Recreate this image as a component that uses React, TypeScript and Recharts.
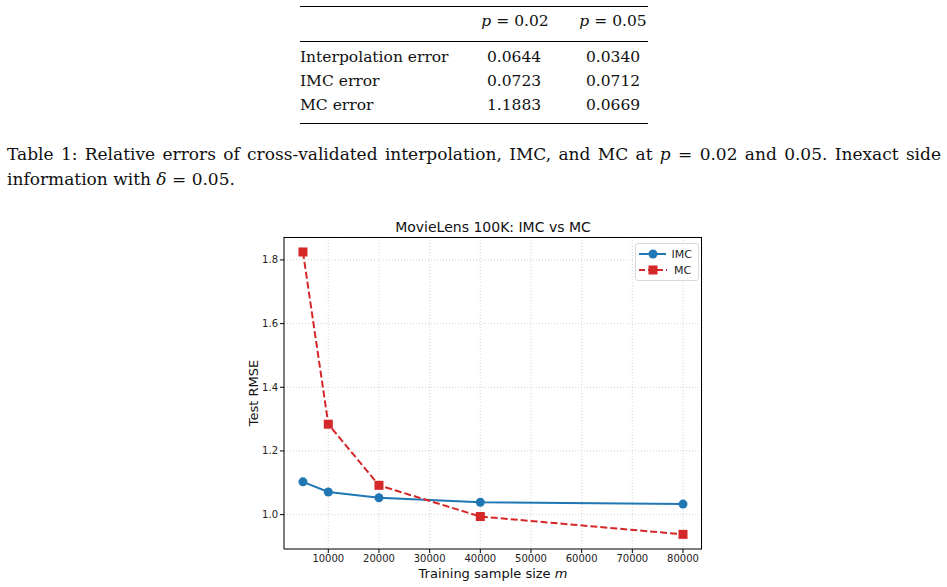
import React from "react";
import { LineChart, Line, XAxis, YAxis, CartesianGrid } from "recharts";

const sampleSizes = [5000, 10000, 20000, 40000, 80000];
const imcRmse = [1.103, 1.071, 1.053, 1.039, 1.033];
const mcRmse = [1.825, 1.284, 1.092, 0.994, 0.938];

const xTicks = [10000, 20000, 30000, 40000, 50000, 60000, 70000, 80000];
const yTicks = [1.0, 1.2, 1.4, 1.6, 1.8];

const rowLabels = ["Interpolation error", "IMC error", "MC error"];
const errP02 = ["0.0644", "0.0723", "1.1883"];
const errP05 = ["0.0340", "0.0712", "0.0669"];

const BLUE = "#1f77b4";
const RED = "#d62728";

const data = sampleSizes.map((m, i) => ({ m, imc: imcRmse[i], mc: mcRmse[i] }));

const serif = "'DejaVu Serif', serif";
const sans = "'DejaVu Sans', sans-serif";

function Square(props: any) {
  const { cx, cy } = props;
  if (cx == null || cy == null) return null;
  return <rect x={cx - 4.5} y={cy - 4.5} width={9} height={9} fill={RED} />;
}

function Circle(props: any) {
  const { cx, cy } = props;
  if (cx == null || cy == null) return null;
  return <circle cx={cx} cy={cy} r={4.5} fill={BLUE} />;
}

function LegendBox() {
  const item = (label: string, color: string, dashed: boolean, square: boolean) => (
    <div style={{ display: "flex", alignItems: "center", height: 16 }}>
      <svg width={30} height={12}>
        <line
          x1={1}
          y1={6}
          x2={29}
          y2={6}
          stroke={color}
          strokeWidth={2}
          strokeDasharray={dashed ? "6 3" : undefined}
        />
        {square ? (
          <rect x={10.5} y={1.5} width={9} height={9} fill={color} />
        ) : (
          <circle cx={15} cy={6} r={4.5} fill={color} />
        )}
      </svg>
      <span style={{ marginLeft: 6, fontSize: 11, color: "#222", fontFamily: sans }}>{label}</span>
    </div>
  );
  return (
    <div
      style={{
        position: "absolute",
        left: 635,
        top: 243,
        width: 54,
        border: "1px solid #d8d8d8",
        borderRadius: 3,
        background: "rgba(255,255,255,0.85)",
        padding: "2px 6px 2px 2px",
      }}
    >
      {item("IMC", BLUE, false, false)}
      {item("MC", RED, true, true)}
    </div>
  );
}

function Math({ v, s }: { v: string; s: string }) {
  return (
    <span>
      <i>{v}</i> = {s}
    </span>
  );
}

export default function App() {
  const cell = 15.5;
  return (
    <div
      style={{
        position: "fixed",
        left: 0,
        top: 0,
        width: 947,
        height: 587,
        background: "#fff",
        fontFamily: serif,
        color: "#111",
      }}
    >
      {/* table */}
      <div style={{ position: "absolute", left: 300, top: 6, width: 348, height: 1.3, background: "#000" }} />
      <div style={{ position: "absolute", left: 300, top: 40.5, width: 348, height: 0.8, background: "#000" }} />
      <div style={{ position: "absolute", left: 300, top: 123, width: 348, height: 1.3, background: "#000" }} />
      <div style={{ position: "absolute", left: 465, top: 12, width: 100, textAlign: "center", fontSize: cell }}>
        <Math v="p" s="0.02" />
      </div>
      <div style={{ position: "absolute", left: 563, top: 12, width: 100, textAlign: "center", fontSize: cell }}>
        <Math v="p" s="0.05" />
      </div>
      {rowLabels.map((lab, i) => (
        <React.Fragment key={lab}>
          <div style={{ position: "absolute", left: 300, top: 48 + i * 24, fontSize: cell, whiteSpace: "nowrap" }}>
            {lab}
          </div>
          <div style={{ position: "absolute", left: 464, top: 48 + i * 24, width: 100, textAlign: "center", fontSize: cell }}>
            {errP02[i]}
          </div>
          <div style={{ position: "absolute", left: 563, top: 48 + i * 24, width: 100, textAlign: "center", fontSize: cell }}>
            {errP05[i]}
          </div>
        </React.Fragment>
      ))}

      {/* caption */}
      <div
        style={{
          position: "absolute",
          left: 7,
          top: 144,
          width: 934,
          fontSize: 17,
          whiteSpace: "nowrap",
          textAlign: "justify",
          textAlignLast: "justify",
        }}
      >
        Table 1: Relative errors of cross-validated interpolation, IMC, and MC at <i>p</i> = 0.02 and 0.05. Inexact side
      </div>
      <div style={{ position: "absolute", left: 7, top: 169, fontSize: 17, whiteSpace: "nowrap" }}>
        information with <i>δ</i> = 0.05.
      </div>

      {/* chart title and axis labels */}
      <div
        style={{
          position: "absolute",
          left: 284,
          top: 219,
          width: 418,
          textAlign: "center",
          fontFamily: sans,
          fontSize: 14,
          lineHeight: "17px",
          color: "#111",
        }}
      >
        MovieLens 100K: IMC vs MC
      </div>
      <div
        style={{
          position: "absolute",
          left: 493,
          top: 573,
          transform: "translate(-50%, -50%)",
          fontFamily: sans,
          fontSize: 13,
          whiteSpace: "nowrap",
          color: "#111",
        }}
      >
        Training sample size <i>m</i>
      </div>
      <div
        style={{
          position: "absolute",
          left: 253,
          top: 393,
          transform: "translate(-50%, -50%) rotate(-90deg)",
          fontFamily: sans,
          fontSize: 13,
          whiteSpace: "nowrap",
          color: "#111",
        }}
      >
        Test RMSE
      </div>

      <div style={{ position: "absolute", left: 230, top: 210 }}>
        <LineChart
          width={500}
          height={377}
          data={data}
          margin={{ top: 27, right: 28, bottom: 8, left: 4 }}
        >
          <CartesianGrid stroke="#c8c8c8" strokeDasharray="1 2" strokeWidth={0.8} />
          <XAxis
            dataKey="m"
            type="number"
            domain={[1257, 83750]}
            allowDataOverflow
            ticks={xTicks}
            height={30}
            tickSize={4}
            tickMargin={2}
            axisLine={{ stroke: "#000", strokeWidth: 1 }}
            tickLine={{ stroke: "#000" }}
            tick={{ fill: "#222", fontSize: 10, fontFamily: sans }}
          />
          <YAxis
            type="number"
            domain={[0.892, 1.872]}
            allowDataOverflow
            ticks={yTicks}
            width={50}
            tickSize={4}
            tickMargin={2}
            tickFormatter={(v: number) => v.toFixed(1)}
            axisLine={{ stroke: "#000", strokeWidth: 1 }}
            tickLine={{ stroke: "#000" }}
            tick={{ fill: "#222", fontSize: 10, fontFamily: sans }}
          />
          <Line
            dataKey="imc"
            stroke={BLUE}
            strokeWidth={2}
            dot={<Circle />}
            activeDot={false}
            isAnimationActive={false}
          />
          <Line
            dataKey="mc"
            stroke={RED}
            strokeWidth={2}
            strokeDasharray="7 3"
            dot={<Square />}
            activeDot={false}
            isAnimationActive={false}
          />
        </LineChart>
      </div>

      {/* axes frame (top/right spines) */}
      <div
        style={{
          position: "absolute",
          left: 284,
          top: 237,
          width: 418,
          height: 312,
          boxSizing: "border-box",
          borderTop: "1px solid #000",
          borderRight: "1px solid #000",
          pointerEvents: "none",
        }}
      />
      <LegendBox />
    </div>
  );
}
